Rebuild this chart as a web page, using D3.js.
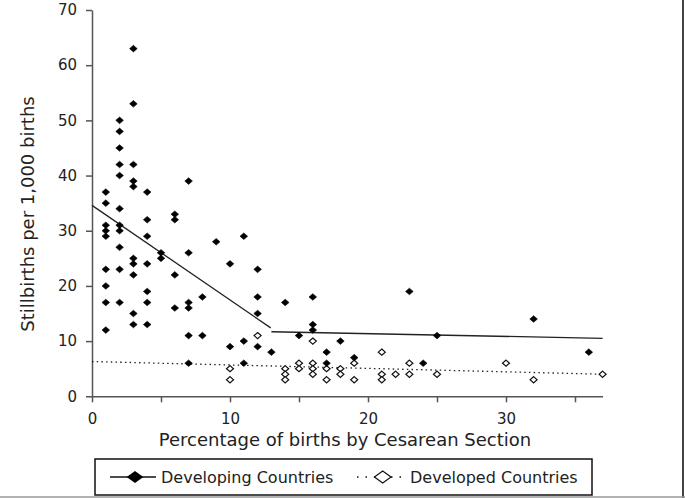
<!DOCTYPE html>
<html>
<head>
<meta charset="utf-8">
<script src="https://cdn.jsdelivr.net/npm/d3@7/dist/d3.min.js"></script>
<style>
  html, body { margin: 0; padding: 0; background: #fff; }
  svg { display: block; }
  text { font-family: "DejaVu Sans", sans-serif; fill: #222; }
</style>
</head>
<body>
<svg id="chart" width="685" height="498"></svg>
<script>
// ---- data ----
const developingX = [
  1,1,1,1,1,1,1,1,1,
  2,2,2,2,2,2,2,2,2,2,2,
  3,3,3,3,3,3,3,3,3,3,
  4,4,4,4,4,4,4,
  5,5,
  6,6,6,6,
  7,7,7,7,7,7,
  8,8,
  9,
  10,10,
  11,11,11,
  12,12,12,12,
  13,14,15,
  16,16,16,
  17,17,
  18,19,23,24,25,32,36
];
const developingY = [
  37,35,31,30,29,23,20,17,12,
  50,48,45,42,40,34,31,30,27,23,17,
  63,53,42,39,38,25,24,22,15,13,
  37,32,29,24,19,17,13,
  26,25,
  33,32,22,16,
  39,26,17,16,11,6,
  18,11,
  28,
  24,9,
  29,10,6,
  23,18,15,9,
  8,17,11,
  18,13,12,
  8,6,
  10,7,19,6,11,14,8
];
const developedX = [10,10,12,14,14,14,15,15,16,16,16,16,17,17,18,18,19,19,21,21,21,22,23,23,25,30,32,37];
const developedY = [5,3,11,5,4,3,6,5,10,6,5,4,5,3,5,4,6,3,8,4,3,4,6,4,4,6,3,4];

// fitted trend lines (endpoints)
const developingFitA = [[0, 34.6], [12.95, 12.4]];
const developingFitB = [[13, 11.7], [37, 10.5]];
const developedFit = [[0, 6.3], [37, 4.0]];

const xTicks = [0, 5, 10, 15, 20, 25, 30, 35];
const xTickLabels = ["0", "", "10", "", "20", "", "30", ""];
const yTicks = [0, 10, 20, 30, 40, 50, 60, 70];

const xTitle = "Percentage of births by Cesarean Section";
const yTitle = "Stillbirths per 1,000 births";
const legendLabels = ["Developing Countries", "Developed Countries"];

// ---- drawing ----
const svg = d3.select("#chart");
const x = d3.scaleLinear().domain([0, 37]).range([92, 602.6]);
const y = d3.scaleLinear().domain([0, 70]).range([396.3, 10]);

// frame lines
svg.append("line").attr("x1", 683).attr("x2", 683).attr("y1", 0).attr("y2", 498)
  .attr("stroke", "#444").attr("stroke-width", 2);
svg.append("line").attr("x1", 0).attr("x2", 685).attr("y1", 497).attr("y2", 497)
  .attr("stroke", "#999").attr("stroke-width", 1.5);

// axes
const xAxis = d3.axisBottom(x).tickValues(xTicks)
  .tickFormat((d, i) => xTickLabels[i]).tickSizeInner(6).tickSizeOuter(0).tickPadding(11);
const yAxis = d3.axisLeft(y).tickValues(yTicks).tickFormat(d3.format("d"))
  .tickSizeInner(6).tickSizeOuter(0).tickPadding(9);

const gx = svg.append("g").attr("transform", `translate(0,${y(0)})`).call(xAxis);
const gy = svg.append("g").attr("transform", `translate(${x(0)},0)`).call(yAxis);
[gx, gy].forEach(g => {
  g.select(".domain").attr("stroke", "#555").attr("stroke-width", 1.5);
  g.selectAll(".tick line").attr("stroke", "#555").attr("stroke-width", 1.5);
  g.selectAll(".tick text").attr("font-size", 15).attr("fill", "#222")
    .attr("font-family", "DejaVu Sans, sans-serif");
});

// axis titles
svg.append("text").attr("x", 345).attr("y", 446).attr("text-anchor", "middle")
  .attr("font-size", 18).text(xTitle);
svg.append("text").attr("transform", `translate(34,${214}) rotate(-90)`)
  .attr("text-anchor", "middle").attr("font-size", 18).text(yTitle);

// trend lines
const line = d3.line().x(d => x(d[0])).y(d => y(d[1]));
svg.append("path").attr("d", line(developingFitA)).attr("fill", "none")
  .attr("stroke", "#222").attr("stroke-width", 1.3);
svg.append("path").attr("d", line(developingFitB)).attr("fill", "none")
  .attr("stroke", "#222").attr("stroke-width", 1.3);
svg.append("path").attr("d", line(developedFit)).attr("fill", "none")
  .attr("stroke", "#222").attr("stroke-width", 1.3).attr("stroke-dasharray", "1.5,3.2");

// diamond marker path
const diamond = (cx, cy, hw, hh) => `M${cx},${cy - hh}L${cx + hw},${cy}L${cx},${cy + hh}L${cx - hw},${cy}Z`;

// developed points (open)
svg.append("g").selectAll("path").data(developedX.map((d, i) => [d, developedY[i]]))
  .join("path").attr("d", d => diamond(x(d[0]), y(d[1]), 3.5, 3.1))
  .attr("fill", "#fff").attr("stroke", "#111").attr("stroke-width", 1.2);

// developing points (filled)
svg.append("g").selectAll("path").data(developingX.map((d, i) => [d, developingY[i]]))
  .join("path").attr("d", d => diamond(x(d[0]), y(d[1]), 3.8, 3.3))
  .attr("fill", "#000").attr("stroke", "#000").attr("stroke-width", 0.6);

// legend
const lg = svg.append("g");
lg.append("rect").attr("x", 95).attr("y", 459).attr("width", 497).attr("height", 36)
  .attr("fill", "#fff").attr("stroke", "#111").attr("stroke-width", 1.5);
lg.append("line").attr("x1", 110).attr("x2", 156).attr("y1", 477).attr("y2", 477)
  .attr("stroke", "#111").attr("stroke-width", 1.5);
lg.append("path").attr("d", diamond(135, 477, 8.3, 6)).attr("fill", "#000");
lg.append("text").attr("x", 161).attr("y", 483).attr("font-size", 16).text(legendLabels[0]);
lg.append("line").attr("x1", 357).attr("x2", 404).attr("y1", 477).attr("y2", 477)
  .attr("stroke", "#111").attr("stroke-width", 1.5).attr("stroke-dasharray", "1.5,7");
lg.append("path").attr("d", diamond(382.7, 477, 8.3, 6)).attr("fill", "#fff")
  .attr("stroke", "#111").attr("stroke-width", 1.2);
lg.append("text").attr("x", 410).attr("y", 483).attr("font-size", 16).text(legendLabels[1]);
</script>
</body>
</html>
